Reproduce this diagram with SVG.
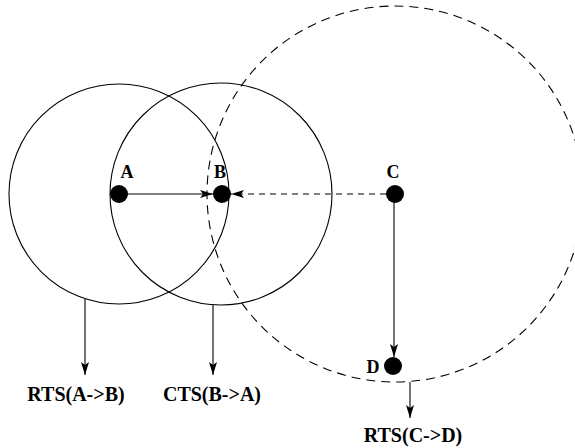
<svg xmlns="http://www.w3.org/2000/svg" width="575" height="448" viewBox="0 0 575 448">
<style>
.range{fill:none;stroke:#000;stroke-width:1.1}
.dash{stroke-dasharray:9 6}
.dot{fill:#000}
.lbl{font-family:"Liberation Serif","Times New Roman",serif;font-weight:bold;fill:#000;text-anchor:middle}
.node{font-size:18px}
.msg{font-size:20px}
.conn{fill:none;stroke:#000;stroke-width:1.1;marker-end:url(#ah)}
</style>
<defs>
<marker id="ah" markerWidth="14" markerHeight="10" refX="13" refY="5" orient="auto" markerUnits="userSpaceOnUse">
<path d="M0,1 L13,5 L0,9 L3,5 Z" fill="#000"/>
</marker>
</defs>
<g id="ranges">
<circle class="range" cx="119" cy="194" r="110"/>
<circle class="range" cx="221" cy="194" r="111"/>
<circle class="range dash" cx="395" cy="194" r="188"/>
</g>
<g id="connectors">
<line class="conn" x1="119" y1="194" x2="213" y2="194"/>
<line class="conn" x1="386" y1="194" x2="231" y2="194" stroke-dasharray="6 5"/>
<line class="conn" x1="394" y1="194" x2="394" y2="357"/>
<line class="conn" x1="85" y1="299" x2="85" y2="375"/>
<line class="conn" x1="213" y1="305" x2="213" y2="375"/>
<line class="conn" x1="410" y1="382" x2="410" y2="418"/>
</g>
<g id="A"><circle class="dot" cx="119" cy="194" r="9"/><text class="lbl node" x="127" y="178">A</text></g>
<g id="B"><circle class="dot" cx="222" cy="194" r="9"/><text class="lbl node" x="220" y="178">B</text></g>
<g id="C"><circle class="dot" cx="395" cy="194" r="9"/><text class="lbl node" x="393" y="178">C</text></g>
<g id="D"><circle class="dot" cx="393" cy="366" r="9"/><text class="lbl node" x="373" y="373">D</text></g>
<g id="rtsAB"><text class="lbl msg" x="76" y="401">RTS(A-&gt;B)</text></g>
<g id="ctsBA"><text class="lbl msg" x="212" y="401">CTS(B-&gt;A)</text></g>
<g id="rtsCD"><text class="lbl msg" x="413" y="442">RTS(C-&gt;D)</text></g>
</svg>
